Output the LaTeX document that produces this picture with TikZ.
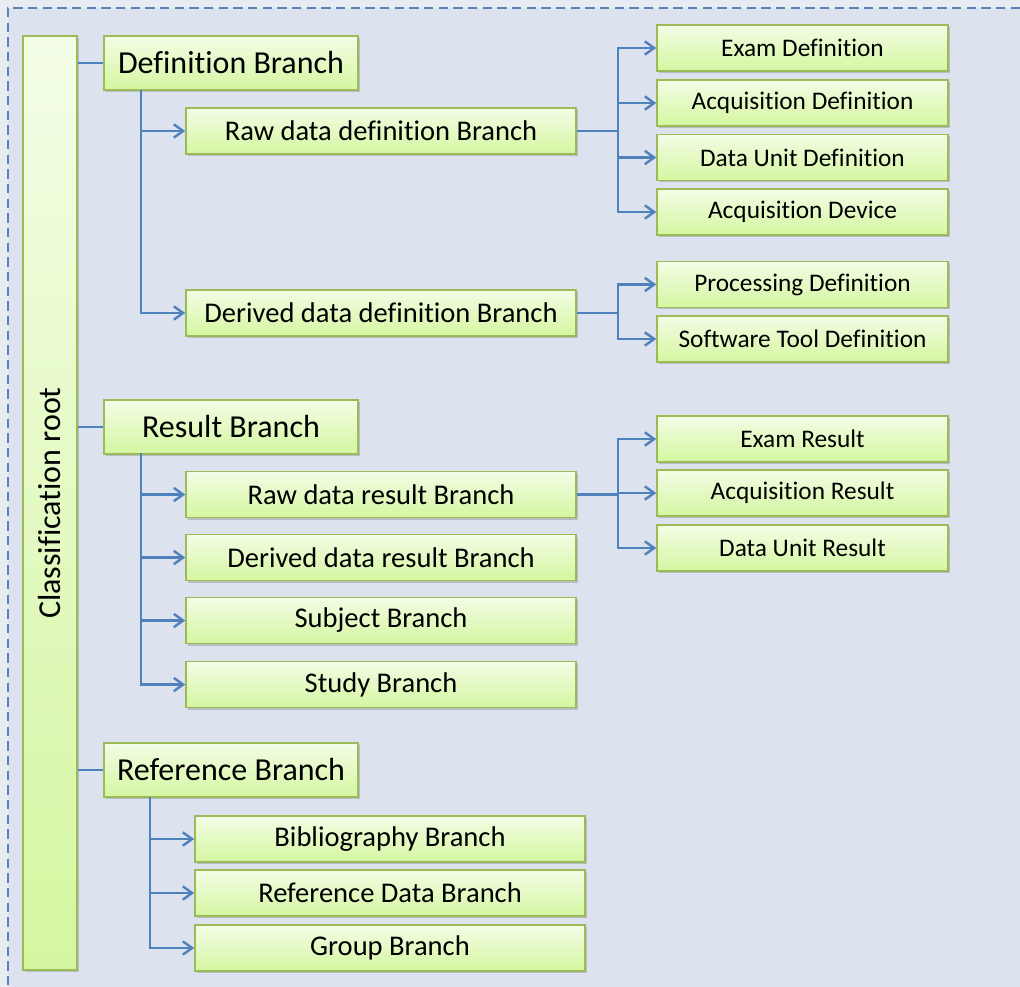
\documentclass[tikz,border=0pt]{standalone}
\usepackage{fontspec}
\setmainfont{Carlito}[RawFeature={-liga}]
\usetikzlibrary{arrows.meta,shadows}
\definecolor{pagebg}{HTML}{E8EBF2}
\definecolor{bg}{HTML}{DCE2EE}
\definecolor{dashc}{HTML}{5A83BC}
\definecolor{boxtop}{HTML}{F3FDE6}
\definecolor{boxbot}{HTML}{D5F6A0}
\definecolor{boxline}{HTML}{9BBB59}
\definecolor{conn}{HTML}{4F81BD}
\tikzset{
  box/.style={draw=boxline, line width=1.2pt, top color=boxtop, bottom color=boxbot,
    inner sep=0pt, align=center, text=black,
    drop shadow={shadow xshift=1.5pt, shadow yshift=-1.5pt, opacity=0.3, fill=black!60}},
  lvlone/.style={box, minimum width=190.5pt, minimum height=40.5pt, font=\fontsize{24}{28}\selectfont},
  lvltwo/.style={box, minimum width=292.5pt, minimum height=34.5pt, font=\fontsize{21.4}{25}\selectfont},
  leaf/.style={box, minimum width=218.25pt, minimum height=34.5pt, font=\fontsize{19}{23}\selectfont},
  rootbox/.style={box, minimum width=40.5pt, minimum height=700.5pt},
  wire/.style={draw=conn, line width=1.8pt},
  arr/.style={wire, -{Straight Barb[length=7pt,width=10pt,line width=1.8pt]}}
}
\begin{document}
\begin{tikzpicture}[x=0.75pt,y=-0.75pt]
\useasboundingbox (0,0) rectangle (1020,987);
\fill[pagebg] (0,0) rectangle (1020,987);
\fill[bg] (8,8) rectangle (1020,987);
\draw[dashc, line width=1.6pt, dash pattern=on 7pt off 4pt] (1020,8) -- (8,8) -- (8,987);

% root
\node[rootbox, label={[rotate=90, font=\fontsize{24}{28}\selectfont]center:Classification root}] (root) at (50,503) {};

% level one
\node[lvlone] (def) at (231,63) {Definition Branch};
\node[lvlone] (res) at (231,427) {Result Branch};
\node[lvlone] (ref) at (231,770) {Reference Branch};

\draw[wire] (root.east |- def) -- (def.west);
\draw[wire] (root.east |- res) -- (res.west);
\draw[wire] (root.east |- ref) -- (ref.west);

% definition children
\node[lvltwo] (rawdef) at (381,131) {Raw data definition Branch};
\node[lvltwo] (derdef) at (381,313) {Derived data definition Branch};
\coordinate (bdef) at (141,90);
\draw[arr] (bdef) |- (rawdef.west);
\draw[arr] (bdef) |- (derdef.west);

\node[leaf] (exdef) at (802.5,48) {Exam Definition};
\node[leaf] (acqdef) at (802.5,103) {Acquisition Definition};
\node[leaf] (dudef) at (802.5,157.5) {Data Unit Definition};
\node[leaf] (acqdev) at (802.5,212) {Acquisition Device};
\coordinate (jraw) at (618,131);
\draw[wire] (rawdef.east) -- (jraw);
\draw[arr] (jraw) |- (exdef.west);
\draw[arr] (jraw) |- (acqdef.west);
\draw[arr] (jraw) |- (dudef.west);
\draw[arr] (jraw) |- (acqdev.west);

\node[leaf] (procdef) at (802.5,284.5) {Processing Definition};
\node[leaf] (swdef) at (802.5,339) {Software Tool Definition};
\coordinate (jder) at (618,313);
\draw[wire] (derdef.east) -- (jder);
\draw[arr] (jder) |- (procdef.west);
\draw[arr] (jder) |- (swdef.west);

% result children
\node[lvltwo] (rawres) at (381,494.5) {Raw data result Branch};
\node[lvltwo] (derres) at (381,557.5) {Derived data result Branch};
\node[lvltwo] (subj) at (381,620.5) {Subject Branch};
\node[lvltwo] (study) at (381,684.5) {Study Branch};
\coordinate (bres) at (141,453);
\draw[arr] (bres) |- (rawres.west);
\draw[arr] (bres) |- (derres.west);
\draw[arr] (bres) |- (subj.west);
\draw[arr] (bres) |- (study.west);

\node[leaf] (exres) at (802.5,439) {Exam Result};
\node[leaf] (acqres) at (802.5,493) {Acquisition Result};
\node[leaf] (dures) at (802.5,548) {Data Unit Result};
\coordinate (jres) at (618,494.5);
\draw[wire] (rawres.east) -- (jres);
\draw[arr] (jres) |- (exres.west);
\draw[arr] (jres) |- (acqres.west);
\draw[arr] (jres) |- (dures.west);

% reference children
\node[lvltwo] (bib) at (390,839) {Bibliography Branch};
\node[lvltwo] (refdata) at (390,893) {Reference Data Branch};
\node[lvltwo] (group) at (390,948) {Group Branch};
\coordinate (bref) at (150,797);
\draw[arr] (bref) |- (bib.west);
\draw[arr] (bref) |- (refdata.west);
\draw[arr] (bref) |- (group.west);
\end{tikzpicture}
\end{document}
